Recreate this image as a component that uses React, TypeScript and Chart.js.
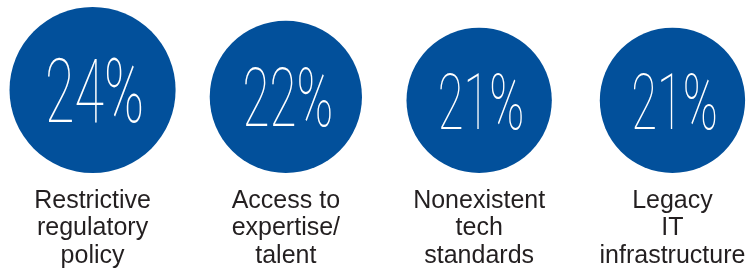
import React, { useEffect, useRef } from "react";
import { Chart, registerables } from "chart.js";

Chart.register(...registerables);

const categories: string[][] = [
  ["Restrictive", "regulatory", "policy"],
  ["Access to", "expertise/", "talent"],
  ["Nonexistent", "tech", "standards"],
  ["Legacy", "IT", "infrastructure"],
];
const values: number[] = [24, 22, 21, 21];
const valueLabels: string[] = ["24%", "22%", "21%", "21%"];

const BLUE = "#02509b";
const TEXT = "#231f20";

const pctPlugin = {
  id: "pctText",
  afterDatasetsDraw(chart: any) {
    const ctx = chart.ctx;
    const meta = chart.getDatasetMeta(0);
    meta.data.forEach((el: any, i: number) => {
      const r = el.options.radius;
      if (!r) return;
      const size = r * 1.08;
      ctx.save();
      ctx.fillStyle = "#ffffff";
      ctx.font = `100 ${size}px Roboto`;
      ctx.textAlign = "center";
      ctx.textBaseline = "alphabetic";
      ctx.translate(el.x + 2, el.y + size * 0.36);
      ctx.scale(0.6, 1);
      ctx.fillText(valueLabels[i], 0, 0);
      ctx.restore();
    });
  },
};

export default function App() {
  const ref = useRef<HTMLCanvasElement | null>(null);
  useEffect(() => {
    if (!ref.current) return;
    const chart = new Chart(ref.current, {
      type: "bubble",
      data: {
        datasets: [
          {
            data: values.map((v, i) => ({ x: i, y: v, r: 0 })),
            backgroundColor: BLUE,
            borderWidth: 0,
            clip: false,
          } as any,
        ],
      },
      options: {
        animation: false,
        responsive: true,
        maintainAspectRatio: false,
        layout: { padding: 0, autoPadding: false },
        plugins: { legend: { display: false }, tooltip: { enabled: false } },
        scales: {
          x: {
            type: "linear",
            min: -0.4788,
            max: 3.396,
            afterBuildTicks: (scale: any) => {
              scale.ticks = categories.map((_, i) => ({ value: i }));
            },
            afterFit: (scale: any) => {
              scale.height = 96;
              scale.paddingLeft = 0;
              scale.paddingRight = 0;
            },
            grid: { display: false, drawTicks: false },
            border: { display: false },
            ticks: {
              autoSkip: false,
              maxRotation: 0,
              padding: 14,
              color: TEXT,
              font: { family: "'Liberation Sans', Arial, sans-serif", size: 25, lineHeight: 1.1 },
              callback: (v: any) => categories[v as number],
            },
          },
          y: {
            display: false,
            min: 0,
            max: 50,
          },
        },
      },
      plugins: [pctPlugin],
    });
    // bubble radius taken from the y scale so each circle rests on the baseline
    const ys: any = chart.scales.y;
    chart.data.datasets[0].data = values.map((v, i) => ({
      x: i,
      y: v,
      r: Math.abs(ys.getPixelForValue(0) - ys.getPixelForValue(v)),
    })) as any;
    chart.update();
    return () => chart.destroy();
  }, []);
  return (
    <div style={{ position: "absolute", left: 0, top: 0, width: 749, height: 269 }}>
      <canvas ref={ref} />
    </div>
  );
}
